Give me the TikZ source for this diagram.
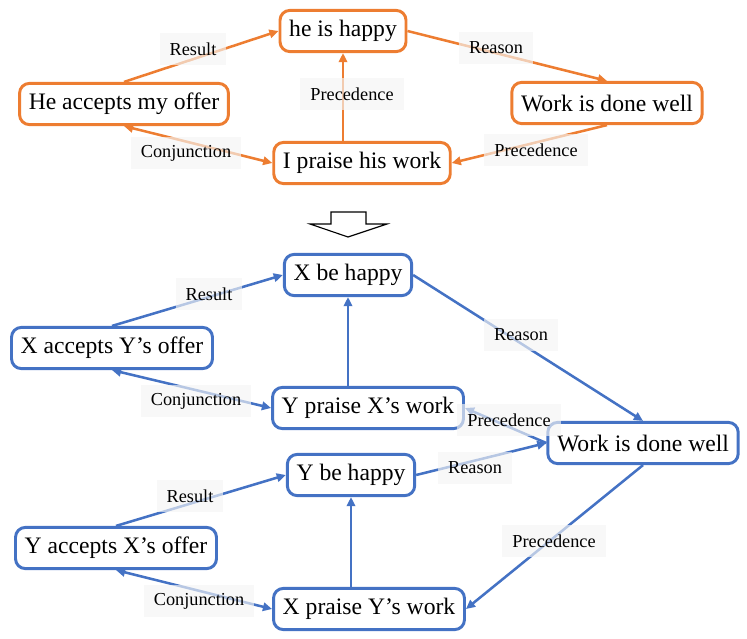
\documentclass[tikz,border=0pt]{standalone}
\usepackage{fontspec}
\setmainfont{Liberation Serif}
\usetikzlibrary{arrows.meta}
\definecolor{orng}{HTML}{ED7D31}
\definecolor{blu}{HTML}{4472C4}

\begin{document}
\begin{tikzpicture}[x=0.025cm, y=-0.025cm,
  >={Triangle[length=6.5pt, width=6pt]},
  evtbox/.style={shape=rectangle, rounded corners=7pt, line width=2.1pt, fill=white,
    inner xsep=0.23cm, minimum height=1.03cm, font=\fontsize{16.8}{20}\selectfont},
  orangebox/.style={evtbox, draw=orng},
  bluebox/.style={evtbox, draw=blu},
  rel/.style={shape=rectangle, fill=gray!8, fill opacity=0.65, text opacity=1,
    inner xsep=0.25cm, minimum height=0.8cm, font=\fontsize{13}{15}\selectfont},
  orangelink/.style={draw=orng, line width=1.8pt},
  bluelink/.style={draw=blu, line width=1.8pt}
]
\useasboundingbox (0,0) rectangle (747,638);

              % concrete events
\node[orangebox] at (343, 31)
(hap) {he is happy};

\node[orangebox] at (124, 104)
(acc) {He accepts my offer};

\node[orangebox] at (362, 163)
(prs) {I praise his work};

\node[orangebox] at (607, 103)
(wrk) {Work is done well};

\draw[->, orangelink] (acc.north) -- (hap.west);
\draw[->, orangelink] (hap.east) -- (wrk.north);
\draw[->, orangelink] (hap.south |- prs.north) -- (hap.south);
\draw[->, orangelink] (wrk.south) -- (prs.east);
\draw[<->, orangelink] (acc.south) -- (prs.west);

\node[rel] at (193, 49)  (r1) {Result};
\node[rel] at (496, 48)  (r2) {Reason};
\node[rel] at (352, 94)  (r3) {Precedence};
\node[rel] at (186, 153) (r4) {Conjunction};
\node[rel] at (536, 150) (r5) {Precedence};

              % abstraction arrow
\draw[line width=0.8pt, fill=white]
  (331,212) -- (366,212) -- (366,224) -- (387,224) -- (348,237)
  -- (310,224) -- (331,224) -- cycle;

              % abstract events
\node[bluebox] at (348, 275)
(xhap) {X be happy};

\node[bluebox] at (112, 348)
(xacc) {X accepts Y’s offer};

\node[bluebox] at (368, 408)
(yprs) {Y praise X’s work};

\node[bluebox] at (643, 443)
(wrk2) {Work is done well};

\node[bluebox] at (351, 475)
(yhap) {Y be happy};

\node[bluebox] at (116, 548)
(yacc) {Y accepts X’s offer};

\node[bluebox] at (369, 609)
(xprs) {X praise Y’s work};

\draw[->, bluelink] (xacc.north) -- (xhap.west);
\draw[->, bluelink] (xhap.east) -- (wrk2.north);
\draw[->, bluelink] (xhap.south |- yprs.north) -- (xhap.south);
\draw[->, bluelink] (wrk2.west) -- (yprs.east);
\draw[<->, bluelink] (xacc.south) -- (yprs.west);

\draw[->, bluelink] (yacc.north) -- (yhap.west);
\draw[->, bluelink] (yhap.east) -- (wrk2.west);
\draw[->, bluelink] (yhap.south |- xprs.north) -- (yhap.south);
\draw[->, bluelink] (wrk2.south) -- (xprs.east);
\draw[<->, bluelink] (yacc.south) -- (xprs.west);

\node[rel] at (209, 294) (r6)  {Result};
\node[rel] at (521, 335) (r7)  {Reason};
\node[rel] at (196, 401) (r8)  {Conjunction};
\node[rel] at (509, 420) (r9)  {Precedence};
\node[rel] at (190, 496) (r10) {Result};
\node[rel] at (475, 468) (r11) {Reason};
\node[rel] at (554, 541) (r12) {Precedence};
\node[rel] at (199, 601) (r13) {Conjunction};
            \end{tikzpicture}
\end{document}
